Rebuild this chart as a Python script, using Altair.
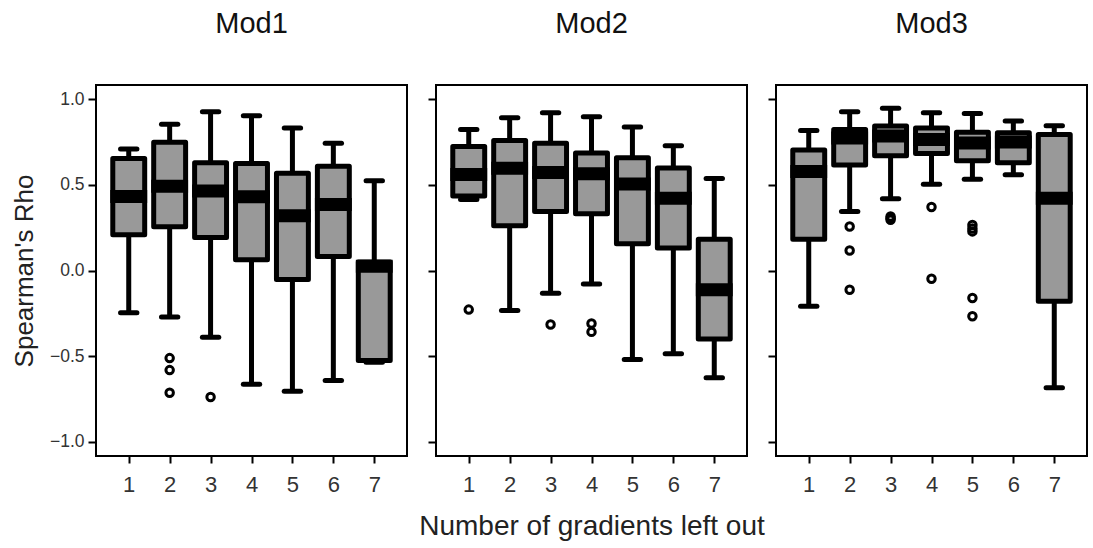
import altair as alt
import pandas as pd

FONT = "Liberation Sans"

groups = [1, 2, 3, 4, 5, 6, 7]
mods = ["Mod1", "Mod2", "Mod3"]

# Box summaries (whisker low, Q1, median, Q3, whisker high)
mod1_low = [-0.247, -0.271, -0.389, -0.664, -0.705, -0.641, -0.535]
mod1_q1 = [0.209, 0.255, 0.193, 0.063, -0.053, 0.082, -0.525]
mod1_med = [0.432, 0.492, 0.463, 0.430, 0.319, 0.385, 0.025]
mod1_q3 = [0.653, 0.748, 0.629, 0.624, 0.567, 0.608, 0.050]
mod1_high = [0.709, 0.853, 0.926, 0.903, 0.831, 0.742, 0.523]

mod2_low = [0.414, -0.234, -0.133, -0.079, -0.519, -0.486, -0.626]
mod2_q1 = [0.435, 0.261, 0.344, 0.331, 0.156, 0.131, -0.399]
mod2_med = [0.560, 0.597, 0.571, 0.564, 0.505, 0.422, -0.112]
mod2_q3 = [0.723, 0.759, 0.742, 0.686, 0.657, 0.598, 0.183]
mod2_high = [0.823, 0.891, 0.920, 0.897, 0.837, 0.728, 0.536]

mod3_low = [-0.209, 0.344, 0.418, 0.503, 0.532, 0.558, -0.684]
mod3_q1 = [0.183, 0.615, 0.669, 0.683, 0.640, 0.629, -0.179]
mod3_med = [0.577, 0.773, 0.785, 0.764, 0.743, 0.750, 0.422]
mod3_q3 = [0.703, 0.822, 0.843, 0.831, 0.807, 0.804, 0.794]
mod3_high = [0.816, 0.926, 0.946, 0.920, 0.916, 0.872, 0.845]

# Outliers
mod1_out_g = [2, 2, 2, 3]
mod1_out_v = [-0.511, -0.581, -0.713, -0.738]
mod2_out_g = [1, 3, 4, 4]
mod2_out_v = [-0.228, -0.315, -0.309, -0.358]
mod3_out_g = [2, 2, 2, 3, 3, 3, 4, 4, 5, 5, 5, 5, 5]
mod3_out_v = [0.257, 0.117, -0.112, 0.315, 0.305, 0.296, 0.370, -0.048,
              0.265, 0.245, 0.228, -0.160, -0.267]

summaries = {
    "Mod1": (mod1_low, mod1_q1, mod1_med, mod1_q3, mod1_high, mod1_out_g, mod1_out_v),
    "Mod2": (mod2_low, mod2_q1, mod2_med, mod2_q3, mod2_high, mod2_out_g, mod2_out_v),
    "Mod3": (mod3_low, mod3_q1, mod3_med, mod3_q3, mod3_high, mod3_out_g, mod3_out_v),
}

x_scale = alt.Scale(domain=[0.2, 7.8], nice=False, zero=False)
y_scale = alt.Scale(domain=[-1.082, 1.082], nice=False, zero=False)


def make_panel(name, first, middle):
    low, q1, med, q3, high, og, ov = summaries[name]
    df = pd.DataFrame({"g": groups, "low": low, "q1": q1, "med": med,
                       "q3": q3, "high": high})
    dfo = pd.DataFrame({"g": og, "v": ov})

    x_axis = alt.Axis(values=groups, title="Number of gradients left out" if middle else "",
                      labelFontSize=22, titleFontSize=28, labelFont=FONT, titleFont=FONT,
                      titleFontWeight="normal", labelColor="#333333", titleColor="#222222",
                      tickColor="black", tickWidth=2, tickSize=7, labelPadding=11,
                      titlePadding=17 if middle else 0, domain=False, grid=False,
                      labelFlush=False)
    y_axis = alt.Axis(values=[-1.0, -0.5, 0.0, 0.5, 1.0], format=".1f",
                      title="Spearman's Rho" if first else "", labels=first,
                      labelFontSize=17.5, titleFontSize=26, labelFont=FONT, titleFont=FONT,
                      titleFontWeight="normal", labelColor="#333333", titleColor="#222222",
                      tickColor="black", tickWidth=2, tickSize=8, labelPadding=4,
                      titlePadding=12 if first else 0, domain=False, grid=False,
                      labelFlush=False)

    base = alt.Chart(df).transform_calculate(
        xl=alt.datum.g - 0.2, xr=alt.datum.g + 0.2,
        bl=alt.datum.g - 0.39, br=alt.datum.g + 0.39,
        ml=alt.datum.g - 0.45, mr=alt.datum.g + 0.45,
    )

    whisker = base.mark_rule(color="black", strokeWidth=5).encode(
        x=alt.X("g:Q", scale=x_scale, axis=x_axis),
        y=alt.Y("low:Q", scale=y_scale, axis=y_axis),
        y2="high:Q",
    )
    cap_low = base.mark_rule(color="black", strokeWidth=5, strokeCap="round").encode(
        x=alt.X("xl:Q", scale=x_scale, axis=x_axis), x2="xr:Q",
        y=alt.Y("low:Q", scale=y_scale, axis=y_axis),
    )
    cap_high = base.mark_rule(color="black", strokeWidth=5, strokeCap="round").encode(
        x=alt.X("xl:Q", scale=x_scale, axis=x_axis), x2="xr:Q",
        y=alt.Y("high:Q", scale=y_scale, axis=y_axis),
    )
    box = base.mark_rect(fill="#999999", stroke="black", strokeWidth=5,
                         strokeJoin="round").encode(
        x=alt.X("bl:Q", scale=x_scale, axis=x_axis), x2="br:Q",
        y=alt.Y("q1:Q", scale=y_scale, axis=y_axis), y2="q3:Q",
    )
    median = base.mark_rule(color="black", strokeWidth=13, strokeCap="butt").encode(
        x=alt.X("ml:Q", scale=x_scale, axis=x_axis), x2="mr:Q",
        y=alt.Y("med:Q", scale=y_scale, axis=y_axis),
    )
    outliers = alt.Chart(dfo).mark_point(shape="circle", filled=False, color="black",
                                         strokeWidth=3, size=56, opacity=1).encode(
        x=alt.X("g:Q", scale=x_scale, axis=x_axis),
        y=alt.Y("v:Q", scale=y_scale, axis=y_axis),
    )

    return alt.layer(whisker, cap_low, cap_high, box, median, outliers).properties(
        width=311, height=371,
        title=alt.Title(name, fontSize=29, font=FONT, fontWeight="normal",
                        color="#111111", anchor="middle", offset=46, frame="group"),
    )


panels = [make_panel("Mod1", True, False), make_panel("Mod2", False, True),
          make_panel("Mod3", False, False)]

chart = alt.hconcat(*panels, spacing=29, bounds="flush").properties(
    padding={"left": 10, "top": 9, "right": 3, "bottom": 0},
    background="white",
).configure_view(stroke="black", strokeWidth=2, fill="white")

chart.save("out.html", embed_options={"renderer": "svg", "actions": False})
